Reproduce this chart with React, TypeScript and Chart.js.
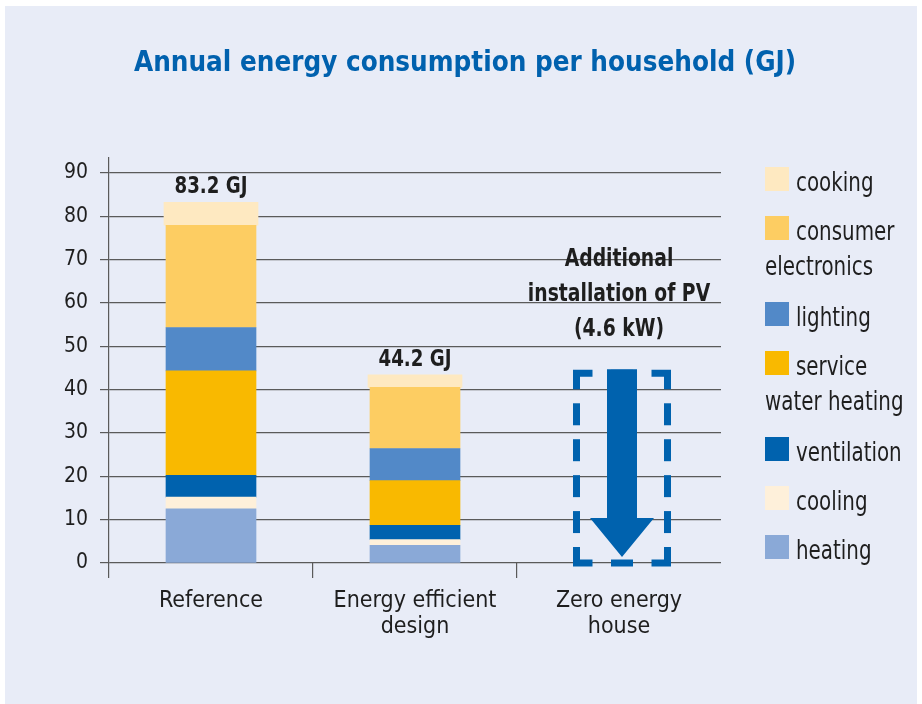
import React, { useEffect, useRef } from "react";
import { Chart, registerables } from "chart.js";

Chart.register(...registerables);

// ---------- data ----------
const TITLE = "Annual energy consumption per household (GJ)";
const CATEGORIES = [["Reference"], ["Energy efficient", "design"], ["Zero energy", "house"]];
const SERIES = [
  "heating",
  "cooling",
  "ventilation",
  "service water heating",
  "lighting",
  "consumer electronics",
  "cooking",
];
const HEATING = [12.5, 4.1, null];
const COOLING = [2.7, 1.3, null];
const VENTILATION = [5.0, 3.3, null];
const WATER_HEATING = [24.1, 10.3, null];
const LIGHTING = [10.0, 7.4, null];
const ELECTRONICS = [23.6, 14.1, null];
const COOKING = [5.3, 2.9, null];
const TOTAL_LABELS = ["83.2 GJ", "44.2 GJ", null];
const PV_OFFSET = 44.2; // GJ offset by PV in the zero energy house
const PV_TEXT = ["Additional", "installation of PV", "(4.6 kW)"];
const Y_TICKS = [0, 10, 20, 30, 40, 50, 60, 70, 80, 90];
const Y_MIN = 0;
const Y_MAX = 93.4;

// ---------- styles ----------
const FONT = "'Liberation Sans Narrow', 'DejaVu Sans Condensed', 'Arial Narrow', sans-serif";
const COLORS = ["#8AA9D7", "#FEF0DA", "#0062AE", "#F9B900", "#5289C8", "#FDCD62", "#FEE9C1"];
const SERIES_VALUES = [HEATING, COOLING, VENTILATION, WATER_HEATING, LIGHTING, ELECTRONICS, COOKING];
const BG = "#E8ECF7";
const GRID = "#5a5a5a";
const TEXT = "#1e1e1e";
const BLUE = "#0062AE";
const TITLE_COLOR = "#0061AE";

function squeezeText(
  ctx: CanvasRenderingContext2D,
  text: string,
  x: number,
  y: number,
  sx: number,
  align: CanvasTextAlign
) {
  ctx.save();
  ctx.translate(x, y);
  ctx.scale(sx, 1);
  ctx.textAlign = align;
  ctx.textBaseline = "alphabetic";
  ctx.fillText(text, 0, 0);
  ctx.restore();
}

const overlayPlugin = {
  id: "overlay",
  afterDatasetsDraw(chart: any) {
    const ctx: CanvasRenderingContext2D = chart.ctx;
    const xs = chart.scales.x;
    const ys = chart.scales.y;
    const area = chart.chartArea;
    ctx.save();

    // Title
    ctx.fillStyle = TITLE_COLOR;
    ctx.font = `bold 29px ${FONT}`;
    squeezeText(ctx, TITLE, chart.width / 2 + 4, 65, 0.95, "center");

    // Totals above bars
    const meta0 = chart.getDatasetMeta(0);
    TOTAL_LABELS.forEach((lab, i) => {
      if (!lab) return;
      let total = 0;
      SERIES_VALUES.forEach((arr) => (total += (arr[i] as number) || 0));
      const cx = meta0.data[i] ? meta0.data[i].x : xs.getPixelForValue(i);
      ctx.fillStyle = TEXT;
      ctx.font = `bold 23px ${FONT}`;
      squeezeText(ctx, lab, cx, ys.getPixelForValue(total) - 9, 0.88, "center");
    });

    // Zero energy house: PV box + arrow + text
    const pvIndex = CATEGORIES.length - 1;
    const cx = xs.getPixelForValue(pvIndex) + 3;
    const top = ys.getPixelForValue(PV_OFFSET) + 2;
    const bottom = ys.getPixelForValue(0);
    const halfW = 45.5;
    const left = cx - halfW;
    const right = cx + halfW;

    ctx.strokeStyle = BLUE;
    ctx.fillStyle = BLUE;
    ctx.lineWidth = 7;
    ctx.lineJoin = "miter";
    ctx.lineCap = "butt";
    const arm = 16;
    const dash = 22;
    const corners = [
      [left, top, 1, 1],
      [right, top, -1, 1],
      [left, bottom, 1, -1],
      [right, bottom, -1, -1],
    ];
    corners.forEach(([x, y, dx, dy]) => {
      ctx.beginPath();
      ctx.moveTo(x, y + dy * arm);
      ctx.lineTo(x, y);
      ctx.lineTo(x + dx * arm, y);
      ctx.stroke();
    });
    const side = (x1: number, y1: number, x2: number, y2: number) => {
      const L = Math.hypot(x2 - x1, y2 - y1);
      const mid = L - 2 * arm;
      const n = Math.max(1, Math.round((mid - 16) / (dash + 16)));
      const gap = (mid - n * dash) / (n + 1);
      const ux = (x2 - x1) / L;
      const uy = (y2 - y1) / L;
      for (let k = 0; k < n; k++) {
        const s = arm + gap + k * (dash + gap);
        ctx.beginPath();
        ctx.moveTo(x1 + ux * s, y1 + uy * s);
        ctx.lineTo(x1 + ux * (s + dash), y1 + uy * (s + dash));
        ctx.stroke();
      }
    };
    side(left, top, left, bottom);
    side(right, top, right, bottom);
    side(left, top, right, top);
    side(left, bottom, right, bottom);

    // arrow
    const tip = bottom - 6;
    const headLen = 39;
    const shaftHalf = 15;
    const headHalf = 32;
    ctx.beginPath();
    ctx.moveTo(cx - shaftHalf, top - 4);
    ctx.lineTo(cx + shaftHalf, top - 4);
    ctx.lineTo(cx + shaftHalf, tip - headLen);
    ctx.lineTo(cx + headHalf, tip - headLen);
    ctx.lineTo(cx, tip);
    ctx.lineTo(cx - headHalf, tip - headLen);
    ctx.lineTo(cx - shaftHalf, tip - headLen);
    ctx.closePath();
    ctx.fill();

    // PV text
    ctx.fillStyle = TEXT;
    ctx.font = `bold 24px ${FONT}`;
    const tx = xs.getPixelForValue(pvIndex);
    PV_TEXT.forEach((line, k) => {
      squeezeText(ctx, line, tx, top - 37 - (PV_TEXT.length - 1 - k) * 35, 0.87, "center");
    });

    // Legend (reverse order, top = last series)
    const LSX = 0.85;
    const lx = area.right + 44;
    let ly = 161;
    ctx.font = `26px ${FONT}`;
    for (let s = SERIES.length - 1; s >= 0; s--) {
      ctx.fillStyle = COLORS[s];
      ctx.fillRect(lx, ly, 24, 24);
      const words = SERIES[s].split(" ");
      const lines: string[] = [];
      let cur = "";
      let maxW = chart.width - (lx + 31) - 4;
      words.forEach((w) => {
        const test = cur ? cur + " " + w : w;
        if (cur && ctx.measureText(test).width * LSX > maxW) {
          lines.push(cur);
          cur = w;
          maxW = chart.width - lx - 4;
        } else {
          cur = test;
        }
      });
      if (cur) lines.push(cur);
      ctx.fillStyle = TEXT;
      lines.forEach((line, k) => {
        squeezeText(ctx, line, k === 0 ? lx + 31 : lx, ly + 24 + k * 35, LSX, "left");
      });
      ly += 49 + 37 * (lines.length - 1);
    }
    ctx.restore();
  },
};

export default function App() {
  const ref = useRef<HTMLCanvasElement | null>(null);

  useEffect(() => {
    if (!ref.current) return;
    const chart = new Chart(ref.current, {
      type: "bar",
      data: {
        labels: CATEGORIES,
        datasets: SERIES.map((name, i) => ({
          label: name,
          data: SERIES_VALUES[i],
          backgroundColor: COLORS[i],
          borderWidth: 0,
          barThickness: i === SERIES.length - 1 ? 94 : 90,
          stack: "total",
        })),
      },
      options: {
        responsive: false,
        animation: false,
        layout: { padding: { left: 0, right: 196, top: 152, bottom: 0 } },
        plugins: {
          legend: { display: false },
          title: { display: false },
          tooltip: { enabled: false },
        },
        scales: {
          x: {
            stacked: true,
            offset: true,
            afterFit: (scale: any) => {
              scale.height = 141;
            },
            border: { display: false },
            grid: {
              offset: true,
              drawOnChartArea: false,
              drawTicks: true,
              tickLength: 15,
              color: (c: any) => (c.type === "tick" ? GRID : "rgba(0,0,0,0)"),
              lineWidth: 1.2,
            },
            ticks: {
              color: TEXT,
              padding: 10,
              maxRotation: 0,
              autoSkip: false,
              font: { family: FONT, size: 23, lineHeight: 1.12 },
            },
          },
          y: {
            stacked: true,
            min: Y_MIN,
            max: Y_MAX,
            afterFit: (scale: any) => {
              scale.width = 104;
            },
            afterBuildTicks: (scale: any) => {
              scale.ticks = Y_TICKS.map((v) => ({ value: v }));
            },
            border: { display: true, color: GRID, width: 1.2 },
            grid: {
              color: GRID,
              lineWidth: 1.2,
              drawTicks: true,
              tickLength: 9,
            },
            ticks: {
              color: TEXT,
              padding: 12,
              font: { family: FONT, size: 21 },
            },
          },
        },
      },
      plugins: [overlayPlugin],
    });
    return () => chart.destroy();
  }, []);

  return (
    <div
      style={{
        position: "absolute",
        left: 5,
        top: 6,
        width: 912,
        height: 698,
        background: BG,
      }}
    >
      <canvas ref={ref} width={912} height={698} style={{ display: "block" }} />
    </div>
  );
}
